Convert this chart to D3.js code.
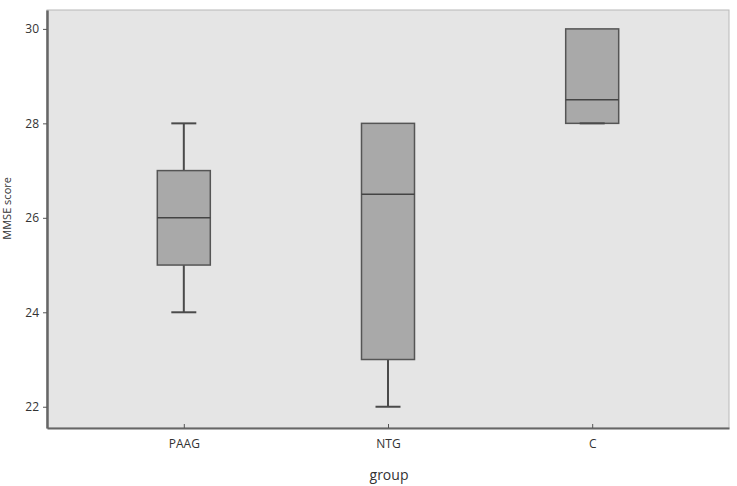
<!DOCTYPE html>
<html>
<head>
<meta charset="utf-8">
<script src="https://cdn.jsdelivr.net/npm/d3@7"></script>
<style>
  body { margin: 0; background: #fff; }
  text { font-family: "Open Sans", "DejaVu Sans", sans-serif; }
</style>
</head>
<body>
<div id="chart-area"></div>
<script>
// Data
let groups  = ["PAAG", "NTG", "C"];
let mins    = [24, 22, 28];
let q1s     = [25, 23, 28];
let medians = [26, 26.5, 28.5];
let q3s     = [27, 28, 30];
let maxs    = [28, 28, 30];
let yTicks  = [22, 24, 26, 28, 30];

let data = groups.map((g, i) => ({
    group: g, min: mins[i], q1: q1s[i], median: medians[i], q3: q3s[i], max: maxs[i]
}));

let margin = {top: 10, right: 8, bottom: 58, left: 47};
let width = 737 - margin.left - margin.right,
    height = 486 - margin.top - margin.bottom;

let svg = d3.select("#chart-area").append("svg")
    .attr("width", 737)
    .attr("height", 486)
  .append("g")
    .attr("transform", "translate(" + margin.left + "," + margin.top + ")");

// Scales
let x = d3.scalePoint()
    .domain(groups)
    .range([0, width])
    .padding(0.67);

let y = d3.scaleLinear()
    .domain([21.55, 30.4])
    .range([height, 0]);

let boxW = 53, capW = 25;

// Plot background + border
svg.append("rect")
    .attr("width", width)
    .attr("height", height)
    .attr("fill", "#e5e5e5")
    .attr("stroke", "#b8b8b8")
    .attr("stroke-width", 1);

let box = svg.selectAll(".box")
    .data(data)
    .enter()
    .append("g")
    .attr("class", "box")
    .attr("transform", d => `translate(${x(d.group)},0)`);

// whiskers
box.append("line")
    .attr("y1", d => y(d.max)).attr("y2", d => y(d.q3))
    .attr("stroke", "#4a4a4a").attr("stroke-width", 2);
box.append("line")
    .attr("y1", d => y(d.q1)).attr("y2", d => y(d.min))
    .attr("stroke", "#4a4a4a").attr("stroke-width", 2);

// boxes
box.append("rect")
    .attr("x", -boxW / 2)
    .attr("width", boxW)
    .attr("y", d => y(d.q3))
    .attr("height", d => y(d.q1) - y(d.q3))
    .attr("fill", "#a9a9a9")
    .attr("stroke", "#555")
    .attr("stroke-width", 1.5);

// caps
box.filter(d => d.max > d.q3).append("line")
    .attr("x1", -capW / 2).attr("x2", capW / 2)
    .attr("y1", d => y(d.max)).attr("y2", d => y(d.max))
    .attr("stroke", "#4a4a4a").attr("stroke-width", 2);
box.append("line")
    .attr("x1", -capW / 2).attr("x2", capW / 2)
    .attr("y1", d => y(d.min)).attr("y2", d => y(d.min))
    .attr("stroke", "#4a4a4a").attr("stroke-width", 2);

// median
box.append("line")
    .attr("x1", -boxW / 2).attr("x2", boxW / 2)
    .attr("y1", d => y(d.median)).attr("y2", d => y(d.median))
    .attr("stroke", "#444").attr("stroke-width", 1.5);

// Axes
let yAxis = svg.append("g")
    .attr("class", "y-axis")
    .call(d3.axisLeft(y).tickValues(yTicks).tickSize(4).tickPadding(4).tickSizeOuter(0));
yAxis.select(".domain").attr("stroke", "#666").attr("stroke-width", 2.5);
yAxis.selectAll(".tick line").attr("stroke", "#555");
yAxis.selectAll(".tick text").attr("fill", "#333").attr("font-size", "12px")
    .style("font-family", "'Open Sans', sans-serif");

let xAxis = svg.append("g")
    .attr("class", "x-axis")
    .attr("transform", `translate(0,${height})`)
    .call(d3.axisBottom(x).tickSize(4).tickPadding(7).tickSizeOuter(0));
xAxis.select(".domain").attr("stroke", "#666").attr("stroke-width", 2);
xAxis.selectAll(".tick line").attr("stroke", "#555").attr("transform", "translate(0,-4)");
xAxis.selectAll(".tick text").attr("fill", "#333").attr("font-size", "12px")
    .style("font-family", "'Open Sans', sans-serif");

// Axis titles
svg.append("text")
    .attr("transform", `translate(${-margin.left + 11},${y(26.2)}) rotate(-90)`)
    .attr("text-anchor", "middle")
    .attr("fill", "#333")
    .attr("font-size", "11px")
    .text("MMSE score");

svg.append("text")
    .attr("x", width / 2 + 1)
    .attr("y", height + 52)
    .attr("text-anchor", "middle")
    .attr("fill", "#333")
    .attr("font-size", "14px")
    .text("group");
</script>
</body>
</html>
